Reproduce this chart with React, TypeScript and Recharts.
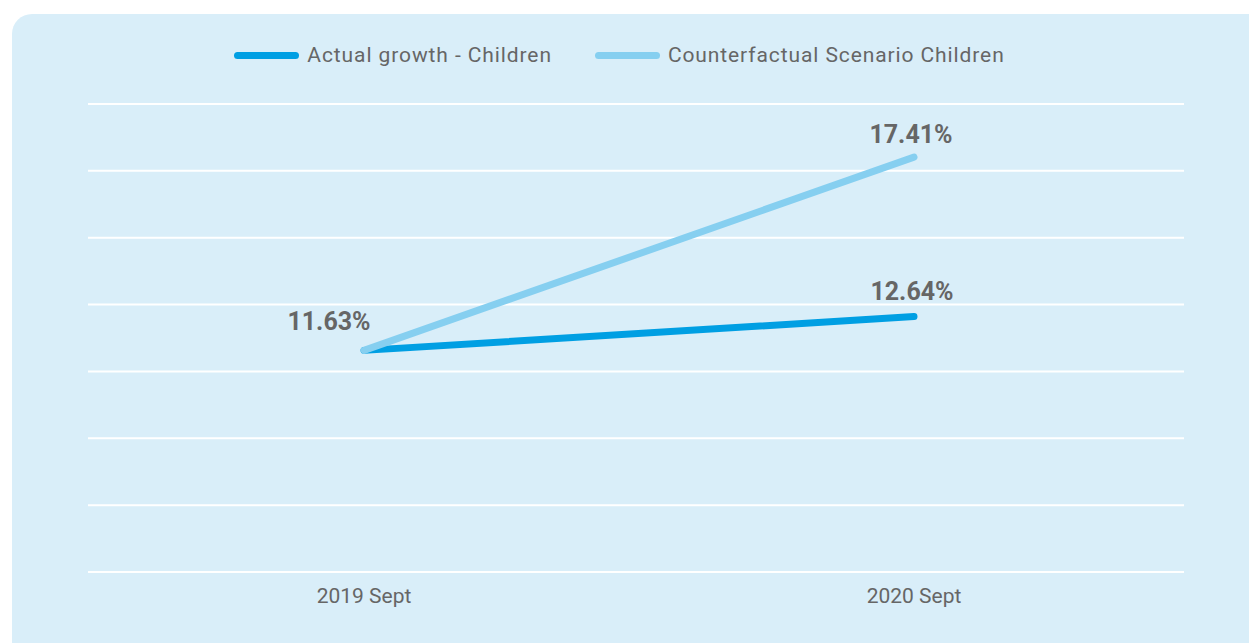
import React from 'react';
import { LineChart, Line, XAxis, YAxis, CartesianGrid, Legend, LabelList } from 'recharts';

const periods = ['2019 Sept', '2020 Sept'];
const actualGrowth = [11.63, 12.64];
const counterfactual = [11.63, 17.41];
const yTicks = [5, 7, 9, 11, 13, 15, 17, 19];

const seriesNames = ['Actual growth - Children', 'Counterfactual Scenario Children'];
const seriesColors = ['#009fe3', '#86cff0'];

const data = periods.map((p, i) => ({
  period: p,
  actual: actualGrowth[i],
  counter: counterfactual[i],
}));

const FONT = 'Roboto, "Liberation Sans", sans-serif';

function LegendBox() {
  return (
    <div style={{ display: 'flex', justifyContent: 'center', alignItems: 'center', paddingRight: 22, fontFamily: FONT, fontSize: 21, letterSpacing: 0.9, color: '#666', lineHeight: '22px' }}>
      {seriesNames.map((name, i) => (
        <div key={name} style={{ display: 'flex', alignItems: 'center', marginRight: i === 0 ? 43 : 0 }}>
          <span style={{ display: 'inline-block', width: 65, height: 7, borderRadius: 4, background: seriesColors[i], marginRight: 8 }} />
          <span>{name}</span>
        </div>
      ))}
    </div>
  );
}

// actual series: only the 2020 value gets a label (2019 is shared with the other line)
function ActualLabel(props: any) {
  const { x, y, value, index } = props;
  if (index === 0) return null;
  return (
    <text x={x - 2} y={y - 17} textAnchor="middle" fill="#666" fontSize={25} fontWeight={700} fontFamily={FONT}>
      {value.toFixed(2)}%
    </text>
  );
}

function CounterLabel(props: any) {
  const { x, y, value, index } = props;
  const dx = index === 0 ? -35 : -3;
  const dy = index === 0 ? -20 : -14;
  return (
    <text x={x + dx} y={y + dy} textAnchor="middle" fill="#666" fontSize={25} fontWeight={700} fontFamily={FONT}>
      {value.toFixed(2)}%
    </text>
  );
}

export default function App() {
  return (
    <div>
      <style>{'body{margin:0;overflow:hidden}'}</style>
      <div style={{ position: 'absolute', left: 12, top: 14, width: 1270, height: 660, background: '#d9eef9', borderRadius: 20 }}>
        <LineChart width={1237} height={629} data={data} margin={{ top: 68, right: 65, bottom: 31, left: 76 }}>
          <CartesianGrid horizontal vertical={false} stroke="#ffffff" strokeWidth={2} />
          <XAxis
            dataKey="period"
            padding={{ left: 276, right: 270 }}
            axisLine={false}
            tickLine={false}
            height={40}
            tick={{ fill: '#666', fontSize: 21, fontFamily: FONT }}
            dy={8}
          />
          <YAxis hide domain={[5, 19]} ticks={yTicks} />
          <Legend verticalAlign="top" content={<LegendBox />} wrapperStyle={{ top: 30, left: 0, width: 1237 }} />
          <Line
            dataKey="actual"
            name={seriesNames[0]}
            stroke={seriesColors[0]}
            strokeWidth={7}
            strokeLinecap="round"
            dot={false}
            activeDot={false}
            isAnimationActive={false}
          >
            <LabelList dataKey="actual" content={<ActualLabel />} />
          </Line>
          <Line
            dataKey="counter"
            name={seriesNames[1]}
            stroke={seriesColors[1]}
            strokeWidth={7}
            strokeLinecap="round"
            dot={false}
            activeDot={false}
            isAnimationActive={false}
          >
            <LabelList dataKey="counter" content={<CounterLabel />} />
          </Line>
        </LineChart>
      </div>
    </div>
  );
}
